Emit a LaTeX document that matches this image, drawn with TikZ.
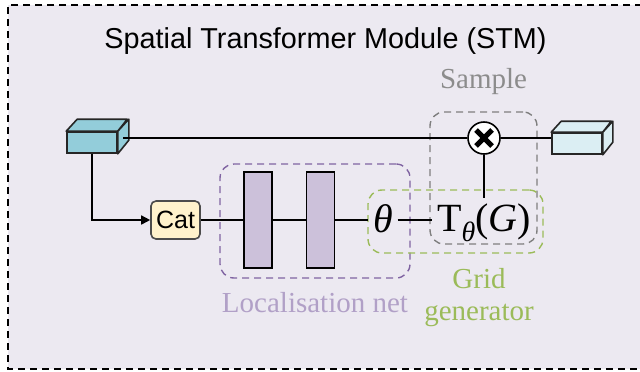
\documentclass[tikz,border=0pt]{standalone}
\usepackage{fontspec}
\setmainfont{Liberation Serif}
\setsansfont{Liberation Sans}
\usetikzlibrary{arrows.meta,positioning,calc}

\definecolor{framebg}{HTML}{ECE9F1}
\definecolor{incolor}{HTML}{93CDDA}
\definecolor{outcolor}{HTML}{DBEEF3}
\definecolor{catfill}{HTML}{FFF2CC}
\definecolor{fcfill}{HTML}{CCC1DA}
\definecolor{locline}{HTML}{8064A2}
\definecolor{loctext}{HTML}{B1A0C7}
\definecolor{gridcolor}{HTML}{9BBB59}
\definecolor{sampline}{HTML}{7F7F7F}
\definecolor{samptext}{HTML}{8C8C8C}

\begin{document}
\begin{tikzpicture}[
    x=0.5pt, y=-0.5pt,
    line width=0.8pt,
    face/.style={draw=black!85, minimum width=25pt, minimum height=10.5pt, inner sep=0pt},
    catbox/.style={draw=black!70, fill=catfill, rounded corners=2.5pt, minimum width=24.5pt, minimum height=19pt, inner sep=0pt, font=\sffamily\fontsize{12.5}{14}\selectfont},
    fc/.style={draw, fill=fcfill, minimum width=14pt, minimum height=48pt, inner sep=0pt},
    group/.style={draw, dash pattern=on 3.5pt off 2.5pt, line width=0.7pt, rounded corners=7pt, inner sep=0pt},
    lbl/.style={font=\fontsize{14.5}{16}\selectfont, inner sep=0pt, anchor=base},
    big/.style={font=\fontsize{20}{22}\selectfont, anchor=base},
    arr/.style={-{Triangle[length=4.5pt,width=4.5pt]}}
  ]
    \useasboundingbox (0,0) rectangle (640,371);
    \fill[framebg] (8,5) rectangle (642,369);
    \draw[line width=0.6pt, dash pattern=on 3.5pt off 2.5pt] (642,5) -- (8,5) -- (8,369) -- (642,369);

    \node[font=\sffamily\fontsize{14.4}{16}\selectfont, inner sep=0pt, anchor=base] (title) at (325.5,48) {Spatial Transformer Module (STM)};

    % dashed groups
    \node[group, draw=locline, minimum width=95pt, minimum height=57pt] (locbox) at (315,221) {};
    \node[group, draw=sampline, minimum width=53.5pt, minimum height=66pt] (samplebox) at (483.5,178) {};
    \node[group, draw=gridcolor, minimum width=87.5pt, minimum height=31.5pt] (gridbox) at (455.5,221.5) {};

    \node[lbl, text=loctext] (loclabel) at (315,312) {Localisation net};
    \node[lbl, text=samptext] (samplabel) at (483.5,88) {Sample};
    \node[font=\fontsize{14.5}{16}\selectfont, inner sep=0pt, align=center, text=gridcolor] (gridlabel) at (479,298) {Grid\\generator};

    % cubes
    \node[face, fill=incolor] (cubein) at (92,142.5) {};
    \draw[fill=incolor, draw=black!85, line join=round] (cubein.north west) -- ++(11,-12) -- ++(50,0) -- (cubein.north east) -- cycle;
    \draw[fill=incolor, draw=black!85, line join=round] (cubein.north east) -- ++(11,-12) -- ++(0,21) -- (cubein.south east) -- cycle;
    \node[face, fill=outcolor] (cubeout) at (577,143.5) {};
    \draw[fill=outcolor, draw=black!85, line join=round] (cubeout.north west) -- ++(10,-11) -- ++(50,0) -- (cubeout.north east) -- cycle;
    \draw[fill=outcolor, draw=black!85, line join=round] (cubeout.north east) -- ++(10,-11) -- ++(0,21) -- (cubeout.south east) -- cycle;
    \coordinate (inport) at ($(cubein.east)+(5.5,-5)$);

    \node[catbox] (cat) at (175.5,220) {Cat};
    \node[fc] (fc1) at (258,220) {};
    \node[fc] (fc2) at (320.5,220) {};
    \node[big, inner sep=2pt] (theta) at (383,232) {\itshape θ};
    \node[big, inner sep=2pt] (ttheta) at (484,231) {T\raisebox{-5pt}{\fontsize{14}{15}\selectfont\itshape θ}(\textit{G})};
    \node[circle, draw, fill=white, minimum size=16pt, inner sep=0pt] (mult) at (484,138) {};
    \draw[line width=2.6pt] ($(mult)+(-8,-8)$) -- ($(mult)+(8,8)$);
    \draw[line width=2.6pt] ($(mult)+(-8,8)$) -- ($(mult)+(8,-8)$);

    \draw (inport |- mult) -- (mult);
    \draw (mult) -- (mult -| cubeout.west);
    \draw (mult) -- (mult |- ttheta.north);
    \draw[arr] (cubein.south) |- (cat.west);
    \draw (cat) -- (fc1);
    \draw (fc1) -- (fc2);
    \draw (fc2) -- (fc2 -| theta.west);
    \draw (theta.east |- fc2) -- (fc2 -| ttheta.west);
  \end{tikzpicture}
\end{document}
